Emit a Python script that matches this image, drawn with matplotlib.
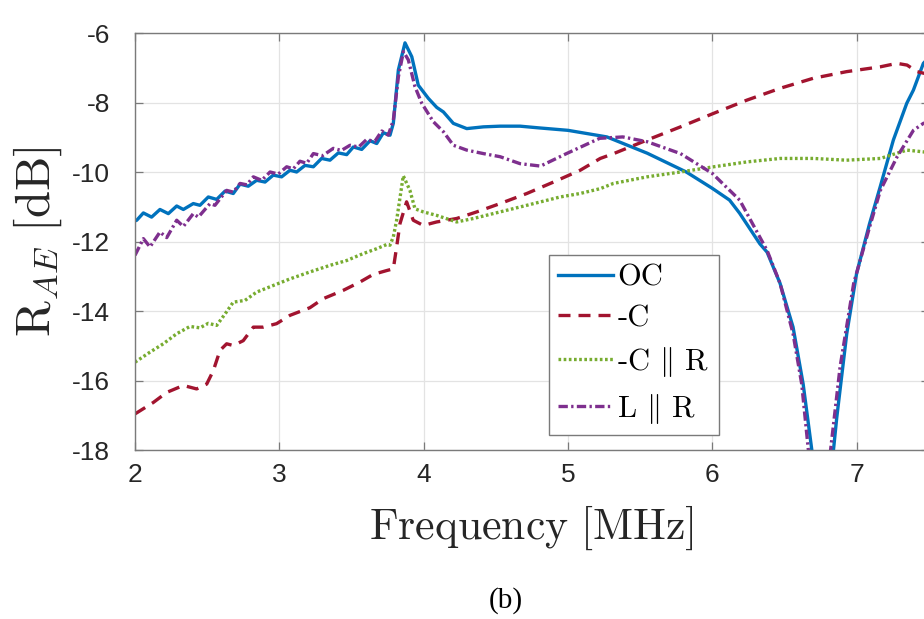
import numpy as np
import matplotlib
matplotlib.use("Agg")
import matplotlib.pyplot as plt

plt.rcParams['mathtext.fontset'] = 'cm'
plt.rcParams['axes.unicode_minus'] = False

# OC (open circuit)
oc_f = [2.0, 2.012, 2.058, 2.115, 2.173, 2.231, 2.289, 2.335, 2.404, 2.45, 2.508, 2.566,
        2.624, 2.681, 2.728, 2.785, 2.843, 2.901, 2.958, 3.016, 3.074, 3.12, 3.178, 3.236,
        3.293, 3.351, 3.409, 3.467, 3.513, 3.571, 3.629, 3.675, 3.721, 3.767, 3.79, 3.825,
        3.871, 3.918, 3.963, 4.033, 4.091, 4.137, 4.206, 4.299, 4.414, 4.53, 4.668, 4.8,
        5.0, 5.27, 5.55, 5.82, 6.0, 6.12, 6.19, 6.33, 6.38, 6.47, 6.56, 6.63, 6.69, 6.765,
        6.84, 6.863, 6.932, 7.0, 7.09, 7.165, 7.255, 7.348, 7.394, 7.463, 7.5]
oc_r = [-11.40, -11.38, -11.17, -11.29, -11.07, -11.19, -10.97, -11.07, -10.90, -10.95, -10.71, -10.78,
        -10.54, -10.61, -10.34, -10.40, -10.23, -10.28, -10.08, -10.13, -9.94, -9.99, -9.80, -9.84,
        -9.60, -9.65, -9.44, -9.49, -9.27, -9.34, -9.09, -9.17, -8.86, -8.93, -8.59, -7.05,
        -6.27, -6.67, -7.49, -7.87, -8.13, -8.26, -8.59, -8.74, -8.69, -8.67, -8.67, -8.72,
        -8.79, -8.98, -9.45, -9.99, -10.46, -10.80, -11.18, -12.06, -12.30, -13.20, -14.46, -16.10, -18.0, -26.0,
        -18.0, -17.06, -14.65, -12.92, -11.48, -10.40, -9.07, -8.01, -7.63, -6.86, -6.70]

# -C
c_f = [2.0, 2.127, 2.22, 2.335, 2.427, 2.497, 2.543, 2.589, 2.635, 2.681, 2.75, 2.82,
       2.889, 2.981, 3.074, 3.212, 3.304, 3.443, 3.559, 3.651, 3.744, 3.79, 3.813, 3.836,
       3.882, 3.928, 3.998, 4.09, 4.229, 4.368, 4.53, 4.715, 4.9, 5.085, 5.224, 5.317,
       5.548, 5.78, 6.01, 6.24, 6.47, 6.7, 6.93, 7.165, 7.28, 7.35, 7.42, 7.5]
c_r = [-16.96, -16.63, -16.34, -16.14, -16.24, -16.10, -15.71, -15.13, -14.94, -14.99, -14.85, -14.46,
       -14.46, -14.36, -14.12, -13.90, -13.64, -13.40, -13.16, -12.94, -12.83, -12.78, -12.15, -11.48,
       -10.85, -11.38, -11.53, -11.43, -11.33, -11.14, -10.90, -10.61, -10.28, -9.94, -9.60, -9.46,
       -9.07, -8.69, -8.30, -7.92, -7.58, -7.29, -7.10, -6.96, -6.86, -6.91, -7.10, -7.18]

# -C || R
cr_f = [2.0, 2.104, 2.196, 2.289, 2.381, 2.45, 2.508, 2.566, 2.624, 2.681, 2.762, 2.843,
        2.958, 3.074, 3.212, 3.351, 3.467, 3.582, 3.675, 3.744, 3.767, 3.79, 3.813, 3.859,
        3.905, 3.94, 3.998, 4.09, 4.229, 4.345, 4.53, 4.715, 4.946, 5.084, 5.224, 5.315,
        5.548, 5.78, 6.01, 6.24, 6.47, 6.7, 6.93, 7.165, 7.348, 7.463, 7.5]
cr_r = [-15.47, -15.18, -14.94, -14.65, -14.44, -14.48, -14.35, -14.41, -14.08, -13.74, -13.69, -13.45,
        -13.26, -13.07, -12.87, -12.68, -12.54, -12.34, -12.20, -12.08, -12.10, -11.86, -11.38, -10.10,
        -10.52, -11.05, -11.14, -11.24, -11.43, -11.33, -11.14, -10.95, -10.71, -10.61, -10.47, -10.32,
        -10.13, -9.99, -9.84, -9.70, -9.60, -9.60, -9.65, -9.60, -9.36, -9.41, -9.45]

# L || R
lr_f = [2.0, 2.058, 2.104, 2.173, 2.22, 2.289, 2.335, 2.404, 2.439, 2.52, 2.554, 2.635,
        2.681, 2.728, 2.775, 2.82, 2.878, 2.936, 2.993, 3.051, 3.097, 3.143, 3.19, 3.236,
        3.30, 3.374, 3.43, 3.49, 3.55, 3.606, 3.66, 3.71, 3.755, 3.79, 3.825, 3.86,
        3.894, 3.94, 3.987, 4.067, 4.137, 4.206, 4.299, 4.414, 4.53, 4.668, 4.81, 4.99,
        5.22, 5.38, 5.55, 5.78, 6.0, 6.19, 6.38, 6.47, 6.56, 6.62, 6.666, 6.745,
        6.82, 6.886, 6.98, 7.09, 7.165, 7.28, 7.394, 7.463, 7.5]
lr_r = [-12.39, -11.91, -12.15, -11.72, -11.88, -11.38, -11.56, -11.19, -11.29, -10.90, -10.95, -10.52,
        -10.57, -10.32, -10.36, -10.13, -10.23, -9.99, -10.05, -9.84, -9.90, -9.68, -9.74, -9.46,
        -9.52, -9.31, -9.37, -9.22, -9.27, -9.05, -9.12, -8.81, -8.93, -8.50, -7.25, -6.52,
        -6.76, -7.53, -8.01, -8.54, -8.83, -9.22, -9.36, -9.46, -9.55, -9.75, -9.82, -9.46,
        -9.02, -8.98, -9.12, -9.46, -10.03, -10.80, -12.25, -13.20, -14.65, -16.10, -18.0, -26.0,
        -18.0, -15.60, -13.20, -11.58, -10.52, -9.56, -8.79, -8.59, -8.55]

fig = plt.figure(figsize=(9.24, 6.19), dpi=100)
ax = fig.add_axes([0.1461, 0.273, 0.859, 0.6729])

ax.plot(oc_f, oc_r, color='#0072BD', lw=2.4, label='OC')
ax.plot(c_f, c_r, color='#A2142F', lw=2.4, dashes=(3.6, 2.4), label='-C')
ax.plot(cr_f, cr_r, color='#77AC30', lw=2.4, dashes=(0.8, 0.75), label='-C $\\|$ R')
ax.plot(lr_f, lr_r, color='#7E2F8E', lw=2.4, dashes=(2.8, 1.0, 0.7, 1.0), label='L $\\|$ R')

ax.set_xlim(2, 7.5)
ax.set_ylim(-18, -6)
ax.set_xticks([2, 3, 4, 5, 6, 7])
ax.set_yticks(np.arange(-18, -5, 2))
ax.grid(True, color='#e3e3e3', lw=0.9)
ax.set_axisbelow(True)

for s in ax.spines.values():
    s.set_color('#7a7a7a')
    s.set_linewidth(1.0)
ax.tick_params(direction='in', length=6, width=0.9, color='#7a7a7a',
               top=True, right=True, labelsize=19, labelcolor='#262626')
ax.tick_params(axis='y', pad=18)
ax.tick_params(axis='x', pad=9)
for lab in ax.get_xticklabels() + ax.get_yticklabels():
    lab.set_family('Liberation Sans')

ax.set_xlabel(r'$\mathrm{Frequency}\ [\mathrm{MHz}]$', fontsize=31.5, color='#262626', labelpad=12)
ax.set_ylabel(r'$\mathrm{R}_{AE}\ [\mathrm{dB}]$', fontsize=35, color='#262626', labelpad=6)

leg = ax.legend(loc='lower left', bbox_to_anchor=(0.522, 0.036), borderaxespad=0,
                prop={'family': 'cmr10', 'size': 22}, fancybox=False, framealpha=1,
                edgecolor='#7a7a7a', handlelength=1.8, handletextpad=0.12,
                labelspacing=0.42, borderpad=0.3)
leg.get_frame().set_linewidth(1.0)

fig.text(0.547, 0.008, '(b)', fontsize=21, family='Liberation Serif', ha='center', va='bottom')

fig.savefig('out.png', dpi=100)
